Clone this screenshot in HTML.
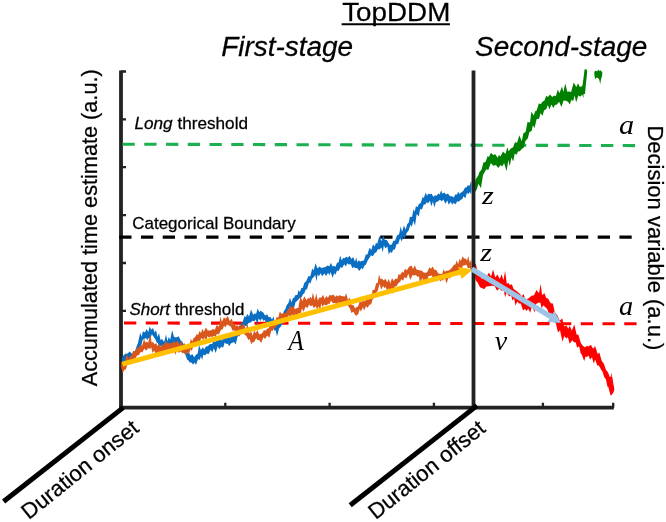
<!DOCTYPE html>
<html><head><meta charset="utf-8">
<style>
html,body{margin:0;padding:0;background:#fff;}
svg{display:block}
text{font-family:"Liberation Sans",sans-serif;fill:#000}
.ser{font-family:"Liberation Serif",serif;font-style:italic}
</style></head><body>
<svg id="s" width="666" height="522" viewBox="0 0 666 522">
<rect width="666" height="522" fill="#fff"/>
<!-- axes -->
<g stroke="#222" stroke-width="3.8" fill="none">
<line x1="121" y1="70.6" x2="121" y2="409.6"/>
<line x1="119.1" y1="407.7" x2="613.8" y2="407.7"/>
</g>
<g stroke="#222" stroke-width="2.3" fill="none">
<path d="M121 71.5h5M121 119.3h5M121 167.2h5M121 215.1h5M121 263h5M121 310.9h5M121 358.8h5"/>
<path d="M225.3 407.7v-5M329.6 407.7v-5M433.9 407.7v-5M542.9 407.7v-5M613.2 407.7v-5"/>
</g>
<!-- dashed thresholds -->
<line x1="122.5" y1="144.2" x2="635.3" y2="145.6" stroke="#1cb050" stroke-width="3.1" stroke-dasharray="12.3 9.45"/>
<line x1="119.2" y1="237.1" x2="631.7" y2="237.1" stroke="#000" stroke-width="3.2" stroke-dasharray="12.3 9.45"/>
<line x1="124" y1="323" x2="636.6" y2="323.8" stroke="#ff0000" stroke-width="3.1" stroke-dasharray="12.3 9.45"/>
<!-- noisy traces -->
<g stroke="none">
<path fill="#0a6fc2" d="M121.9,358.6 123.6,355.2 125.2,353.8 126.7,353.7 127.9,353.3 129.8,351.6 131.9,353.7 133.7,351.7 135.1,350.7 136.7,346.1 138.0,343.1 140.2,332.5 141.5,336.8 143.0,331.2 144.8,332.6 146.7,329.0 148.3,332.3 149.6,326.6 151.1,329.7 153.1,328.1 154.5,332.5 156.1,330.2 157.5,336.9 159.0,333.0 160.5,339.9 162.1,339.0 164.1,341.9 166.1,334.6 167.4,341.2 168.8,336.9 170.2,339.7 172.1,330.2 174.0,336.7 175.9,337.5 177.2,337.1 178.6,336.2 180.8,340.4 182.5,342.1 184.5,347.9 185.8,346.4 187.6,352.9 189.0,352.9 190.6,355.4 192.2,354.1 194.3,357.3 195.7,355.0 197.7,353.5 199.1,345.0 200.9,350.1 202.9,347.2 204.3,349.5 205.8,346.8 208.0,345.9 210.0,344.0 212.1,344.0 213.8,340.6 215.4,342.0 216.6,339.9 218.7,339.6 219.9,338.9 222.0,340.6 224.1,335.2 226.3,336.9 228.2,336.6 230.1,337.8 231.6,334.9 233.6,335.5 235.3,330.6 237.0,331.4 238.3,326.2 239.5,326.9 241.3,323.0 242.6,322.6 244.5,316.1 246.0,317.2 247.3,314.1 249.0,316.5 251.0,309.4 253.2,314.8 254.5,313.5 256.1,313.7 257.7,308.4 259.3,312.2 260.7,310.6 262.1,312.0 263.3,312.6 265.1,315.6 267.3,314.3 268.5,317.0 270.4,317.0 272.1,319.4 273.5,316.3 275.0,323.4 277.2,323.2 278.4,324.2 280.2,321.6 281.8,317.7 284.0,310.8 285.3,309.2 286.4,305.7 288.5,302.7 290.0,297.8 291.5,302.4 292.8,298.2 294.1,297.7 295.5,295.0 297.3,295.0 298.6,290.1 299.9,291.9 301.4,288.0 302.9,287.7 304.1,283.2 306.3,280.9 308.3,276.3 310.3,276.2 312.2,268.4 313.7,270.4 315.5,263.2 317.5,268.6 319.4,266.4 321.5,268.1 323.5,267.5 325.4,267.1 327.5,265.6 329.4,266.2 330.9,262.7 332.6,266.8 333.8,265.4 335.3,267.1 337.1,262.7 338.5,262.4 340.2,255.6 341.7,260.6 343.0,258.1 344.5,258.3 346.3,256.8 347.9,257.7 349.5,255.8 351.4,259.0 353.2,256.9 355.0,261.8 356.2,257.5 357.3,262.3 358.8,260.2 360.1,261.5 361.9,261.1 363.9,260.4 365.8,254.5 367.4,254.5 369.5,247.8 371.3,249.9 373.0,244.2 374.8,246.6 376.1,242.6 377.2,243.9 379.3,236.1 381.5,241.2 383.1,234.9 384.9,240.0 386.8,240.1 388.1,242.2 389.9,244.9 391.9,244.6 393.3,240.8 395.0,240.7 397.0,235.4 399.1,234.3 400.7,226.3 402.0,232.0 403.9,225.6 405.6,229.5 407.3,224.1 408.8,222.5 409.9,216.7 412.0,216.9 413.6,208.9 414.7,211.8 415.9,206.2 417.7,206.9 418.8,204.0 420.8,203.1 422.7,196.5 423.8,198.3 425.6,192.6 427.0,195.8 428.4,193.7 430.5,194.3 431.7,193.8 433.2,196.7 435.4,195.2 436.6,195.8 438.3,193.6 439.7,194.5 441.1,190.2 442.5,193.7 444.4,192.4 446.0,194.4 447.9,193.5 450.0,196.3 452.1,196.2 453.8,197.4 455.2,194.5 457.0,194.6 458.2,191.7 459.6,194.0 461.1,192.4 463.2,191.0 464.9,187.7 466.5,187.2 467.9,185.2 469.6,185.8 471.2,180.7 471.5,184.0 471.5,189.5 471.0,194.5 469.7,191.7 468.5,194.3 467.0,192.8 465.3,198.3 463.5,196.3 462.3,198.9 460.5,200.0 458.7,201.8 457.2,201.3 455.4,204.6 453.8,202.8 452.1,204.7 450.9,201.8 448.7,204.7 447.4,200.6 445.4,203.8 443.4,199.4 441.8,201.2 439.8,199.7 437.9,201.6 435.8,202.3 434.3,207.5 432.9,201.6 431.3,206.5 429.9,200.7 427.9,203.4 426.8,202.1 425.4,204.4 423.8,204.6 421.9,209.6 420.1,209.0 418.8,216.6 416.7,214.0 415.0,225.8 413.4,220.7 411.8,226.9 410.6,224.6 408.7,230.2 406.7,232.9 404.7,239.0 403.3,236.7 401.7,241.6 400.1,238.2 398.1,244.2 396.6,243.9 394.9,249.6 393.1,249.8 391.9,252.9 390.1,251.7 388.8,254.7 387.4,246.4 385.3,248.6 383.9,245.3 382.8,252.6 381.5,247.4 379.4,249.5 377.8,249.2 376.2,252.6 375.0,252.8 372.8,256.3 370.9,255.3 369.7,257.5 367.8,260.2 366.0,264.4 364.3,265.7 362.9,269.2 361.4,268.1 359.3,271.1 357.1,268.0 355.4,268.2 354.1,267.0 352.3,268.2 350.8,264.2 348.7,264.4 347.3,263.2 345.9,266.4 344.3,264.2 342.3,267.8 340.2,267.4 338.8,270.9 337.1,270.5 335.4,274.8 334.2,273.2 332.6,277.8 330.6,272.1 329.4,275.3 328.1,272.8 326.0,276.1 324.4,273.5 322.2,276.2 320.6,273.2 318.9,276.2 317.6,274.3 316.5,281.5 315.3,275.1 313.5,277.3 311.9,279.1 310.4,283.7 309.1,282.3 307.1,288.9 305.4,290.1 304.3,293.5 303.1,294.1 301.6,297.3 299.6,297.9 297.6,300.4 295.5,302.2 293.5,310.0 292.2,307.0 290.6,309.2 289.1,308.3 287.0,314.4 285.6,314.4 283.7,324.3 282.5,322.5 281.1,326.3 279.1,328.6 277.0,336.5 275.6,330.1 274.5,331.0 273.4,327.2 271.2,325.6 270.0,323.1 268.5,324.4 267.3,322.1 266.0,322.6 264.7,319.9 263.2,320.7 261.9,317.9 260.7,321.1 258.7,318.4 257.1,324.7 255.9,319.4 254.2,321.2 252.6,320.8 250.5,322.6 248.3,323.2 246.2,326.6 244.6,325.3 243.1,329.9 241.6,329.8 239.6,334.3 237.5,337.0 235.7,344.6 233.9,341.9 231.9,343.1 230.7,343.6 229.3,346.3 227.7,343.7 226.4,343.9 224.7,342.4 223.1,347.8 221.2,346.8 219.3,349.2 217.7,346.2 215.7,352.9 213.8,348.3 212.3,352.4 210.6,349.7 208.6,354.3 206.6,353.4 205.1,355.5 203.4,354.6 202.2,360.1 201.0,356.2 199.7,359.9 198.1,358.9 196.0,364.9 194.7,362.5 193.1,364.4 191.0,362.3 189.8,362.7 188.5,360.4 187.2,359.8 185.3,354.4 183.7,352.8 181.6,347.3 179.9,346.2 177.9,342.5 176.5,346.0 174.7,342.6 172.5,345.1 170.6,345.0 169.3,348.9 168.0,346.0 166.7,348.4 165.2,348.1 163.3,346.7 161.3,345.3 160.0,346.9 157.9,343.3 156.8,342.4 155.4,339.5 153.9,337.2 151.9,334.3 150.1,339.1 148.6,338.1 147.2,340.2 146.0,337.8 144.5,338.9 142.7,339.7 140.6,348.5 139.5,346.9 137.8,353.0 136.2,353.1 134.2,358.3 132.8,358.3 130.6,360.9 128.7,358.9 126.8,362.9 125.0,360.8 123.1,365.1 121.9,364.4Z"/>
<path fill="#d9571c" d="M121.1,361.8 122.8,362.3 124.9,362.7 126.7,354.1 128.5,358.8 129.7,356.8 131.4,355.1 133.3,350.7 135.1,351.5 137.2,347.2 138.7,348.0 140.0,345.0 142.1,345.6 144.1,339.1 145.3,342.4 146.9,341.6 148.1,342.8 150.3,334.3 151.6,342.4 153.0,342.0 154.9,344.6 156.2,343.0 157.5,346.1 158.8,343.8 160.2,347.1 162.3,344.2 164.1,344.9 165.4,340.7 166.9,343.5 168.0,342.3 169.6,343.9 170.9,343.0 172.6,343.0 174.0,341.1 175.9,343.1 177.5,340.2 179.5,344.6 181.0,340.2 182.2,345.9 184.2,342.8 186.2,347.2 187.6,343.4 189.4,345.1 190.9,338.6 192.1,341.4 193.7,338.1 195.2,337.1 196.5,334.6 198.3,334.6 199.5,330.9 201.0,333.1 202.3,328.8 203.9,331.7 205.8,327.6 207.7,330.5 209.6,330.6 211.3,330.2 212.8,328.9 214.9,329.8 216.6,325.1 218.8,326.7 220.4,316.4 221.9,322.1 223.9,317.5 225.6,318.8 227.8,316.1 229.8,321.1 231.8,318.4 233.2,323.1 234.7,323.4 235.9,326.2 237.3,325.1 238.5,326.9 240.4,323.7 241.6,326.3 243.8,323.2 245.9,329.5 247.7,323.8 249.2,333.4 251.4,331.7 252.6,336.1 254.1,330.6 255.8,332.9 257.5,330.0 259.1,334.3 260.9,334.0 262.3,332.9 263.9,330.3 265.6,330.4 267.3,328.7 268.9,328.0 270.2,322.8 272.2,324.6 273.5,321.7 275.0,321.7 276.7,316.7 278.2,317.9 279.8,311.4 281.7,314.1 283.7,312.8 285.5,313.4 287.1,310.5 288.4,309.8 290.2,304.7 291.6,308.2 293.4,305.7 294.9,309.3 296.4,308.2 298.3,308.1 300.4,295.9 302.4,301.3 304.3,296.2 306.4,300.2 308.0,298.1 309.1,298.7 310.5,296.8 311.7,298.7 312.8,292.7 314.8,300.3 316.2,293.4 317.8,300.6 319.3,297.5 321.3,297.8 323.2,294.7 324.6,299.1 326.4,295.9 327.9,297.8 329.6,295.1 331.6,295.4 333.4,294.6 335.2,297.1 336.6,295.2 338.2,296.6 339.7,294.9 341.1,296.0 343.0,296.3 345.0,296.6 346.1,293.0 348.0,299.9 349.9,297.6 351.5,304.9 353.6,305.3 355.2,308.4 356.7,306.9 358.0,306.4 360.0,300.7 361.1,302.6 363.1,300.7 364.8,301.5 366.6,298.7 368.1,299.8 370.0,296.1 371.5,295.7 372.7,289.8 374.4,290.0 376.2,283.2 377.8,282.7 378.9,274.6 380.5,278.9 381.8,278.8 384.0,280.5 385.2,278.5 387.3,282.2 388.8,278.7 390.3,283.5 392.0,278.1 393.8,281.1 395.5,278.5 397.3,279.1 398.6,273.9 400.1,275.1 402.2,271.4 403.3,272.9 404.9,268.7 406.9,270.3 408.4,267.7 409.7,266.3 411.8,265.7 412.9,268.9 414.9,265.5 416.5,269.5 418.5,269.9 420.1,270.6 421.9,270.8 424.0,272.8 425.6,272.7 427.2,272.2 429.4,267.2 431.1,268.8 432.6,266.4 434.4,269.7 436.3,270.0 438.3,273.5 440.0,273.8 442.1,273.9 443.7,269.3 444.8,271.8 446.8,270.7 448.6,270.6 449.8,269.7 451.9,267.7 454.1,264.5 455.3,264.8 456.8,260.3 458.0,264.2 459.7,258.8 460.9,261.1 462.6,256.3 464.2,258.7 465.4,258.3 467.1,260.4 468.3,255.9 469.7,262.7 471.2,259.8 471.5,263.7 471.5,269.4 471.5,270.6 469.8,268.0 467.9,268.0 466.3,264.4 464.6,265.5 462.9,265.4 461.4,270.6 460.2,267.5 458.9,271.8 457.3,270.1 456.1,273.0 454.8,271.0 453.3,272.8 451.4,274.3 449.9,278.9 448.7,276.7 446.6,283.4 444.6,277.6 443.0,280.7 441.9,279.6 440.8,281.4 438.6,279.2 437.1,281.8 435.1,276.2 433.1,278.5 431.8,275.4 429.6,275.9 428.4,276.3 427.1,281.1 425.0,279.3 423.8,282.8 422.2,277.8 420.1,284.7 419.0,276.2 417.6,277.0 415.9,275.1 414.1,275.4 412.6,275.0 410.4,280.1 408.3,273.7 406.4,278.4 404.7,276.9 403.0,280.7 401.3,279.2 400.0,282.2 398.8,282.4 396.7,286.0 394.7,286.7 392.9,293.7 391.2,288.4 389.6,293.9 388.4,288.3 386.9,290.6 385.7,287.1 384.4,288.0 383.1,285.9 381.0,289.8 379.7,283.6 377.7,290.8 376.1,292.8 374.3,297.7 372.6,299.2 371.2,304.2 369.4,304.8 367.7,307.8 365.8,306.3 364.3,310.6 362.9,307.2 360.9,311.8 359.8,309.1 358.3,314.0 356.2,315.8 355.0,314.7 353.4,311.8 351.5,313.0 350.1,308.7 348.3,306.3 347.0,303.6 345.4,302.8 344.2,302.7 343.0,303.9 341.5,302.6 340.3,306.5 339.0,302.0 336.9,304.3 334.9,303.1 332.8,303.2 331.1,300.5 329.5,304.1 328.3,303.8 326.3,305.5 324.3,304.6 322.6,307.0 321.4,303.6 320.1,309.9 318.3,306.2 317.1,309.8 315.6,306.1 313.9,308.2 312.2,304.9 311.0,306.5 309.2,304.6 307.5,307.9 305.4,306.8 303.7,311.7 302.0,308.4 300.8,312.9 299.0,313.1 297.0,315.9 294.9,314.2 293.6,317.6 291.9,314.3 290.4,317.7 289.0,314.9 287.8,317.3 285.7,319.1 284.1,321.3 282.4,318.7 281.1,322.8 279.7,321.8 277.8,324.7 276.5,326.0 275.3,328.0 273.9,328.5 272.5,330.9 271.3,330.6 269.4,337.8 267.2,335.5 265.1,339.0 263.3,337.3 261.3,343.1 259.4,340.2 257.3,339.9 256.2,337.9 254.1,342.2 252.7,341.9 251.4,344.6 249.6,339.0 248.3,340.0 246.3,335.8 244.8,334.9 243.6,332.6 242.2,334.3 240.9,333.4 239.6,336.7 237.4,332.3 236.1,333.3 234.2,329.9 232.7,331.1 230.9,326.8 229.0,325.6 226.9,324.4 225.4,327.4 224.1,325.8 222.8,328.9 220.9,330.1 218.9,334.6 217.1,333.7 215.3,337.3 214.1,335.8 212.2,337.0 210.4,336.5 209.1,337.7 207.4,335.9 206.0,343.0 204.9,337.2 203.5,339.8 201.3,338.1 199.4,342.9 197.8,340.6 195.9,347.1 193.7,344.8 191.8,351.0 190.4,348.9 189.0,354.5 187.9,352.1 186.0,355.0 184.2,352.3 182.5,353.6 180.8,351.2 178.8,352.9 177.3,349.1 175.4,355.0 173.5,348.6 171.8,350.1 170.5,349.0 169.0,351.4 166.8,349.4 165.4,353.8 164.1,351.0 162.8,355.6 161.6,351.4 159.6,353.2 157.7,352.4 156.3,355.8 154.1,350.6 152.4,352.9 151.3,347.5 150.1,348.8 148.1,348.2 146.1,350.7 144.4,348.5 142.4,352.4 140.9,351.8 139.0,354.9 137.1,355.5 135.3,358.4 134.0,358.4 132.0,363.2 130.4,361.7 129.1,364.5 127.4,364.7 125.8,369.6 124.1,370.0 122.8,373.4 121.1,366.7Z"/>
<path fill="#008000" d="M474.2,185.2 475.8,179.0 478.2,175.7 479.5,172.1 481.6,169.6 483.3,162.7 485.7,161.8 487.6,155.9 489.0,157.1 490.9,152.7 493.3,154.9 495.4,154.3 497.6,157.7 499.0,154.9 500.5,156.5 503.0,151.6 505.5,153.9 507.3,147.3 508.6,151.3 510.9,148.5 513.1,147.3 515.1,142.2 517.1,142.7 519.4,135.3 521.7,141.3 523.4,133.2 525.6,132.1 527.5,122.1 530.0,122.5 531.4,111.8 533.8,115.4 535.1,111.2 536.7,110.6 538.8,103.6 540.9,104.0 542.4,101.7 544.5,100.5 546.2,95.8 547.9,97.1 549.9,94.4 552.3,97.0 554.1,95.5 555.8,96.3 557.8,89.5 559.4,93.3 562.0,86.4 563.3,92.1 565.3,83.5 567.3,91.7 568.8,91.6 571.1,92.0 573.7,82.6 576.3,86.9 578.0,83.3 579.7,86.7 581.7,86.4 583.5,85.1 583.5,98.3 582.1,94.4 580.4,96.8 578.4,95.4 576.1,102.6 574.7,95.6 573.1,101.2 571.4,99.7 569.8,104.6 568.2,102.0 566.1,100.7 563.6,100.4 561.4,107.1 559.1,101.7 557.0,104.6 555.0,104.9 553.3,107.9 551.4,104.6 549.4,109.4 547.9,104.9 546.1,109.2 544.0,110.4 542.5,116.1 540.6,113.0 539.1,118.8 536.7,118.9 534.5,128.1 532.9,125.2 531.6,131.1 529.3,132.2 527.9,138.3 525.4,141.0 524.0,147.2 521.5,149.2 519.9,151.2 518.0,151.5 516.5,154.8 514.7,153.5 513.2,161.5 511.4,157.4 509.8,166.2 508.3,160.1 506.6,171.2 504.1,162.9 502.2,166.4 500.6,164.9 498.2,168.1 495.9,165.0 493.4,165.7 490.8,163.0 488.3,170.1 486.3,169.3 484.9,171.7 483.1,174.8 480.9,188.3 478.5,183.8 476.7,189.4 474.2,193.6Z"/>
<polygon fill="#008000" points="581.5,94 585,94 585.8,85 587.2,72 586.8,69.6 584.6,69.3 583.5,78 582.4,86"/>
<polygon fill="#008000" points="594.3,72 595.5,70.4 597,71.6 598.3,69.4 599.2,71 600.5,70.2 602.4,72.5 602.1,76 601.1,79 600.2,84.2 599.2,79.5 598,78 596.5,77.6 595.2,79.2 594.5,76"/>
<path fill="#ff0000" d="M473.6,261.4 476.0,264.6 478.0,274.6 479.5,272.4 481.8,279.0 484.3,276.3 486.5,277.0 488.9,272.4 491.1,276.4 493.0,269.4 495.3,277.6 497.4,274.5 499.8,279.0 501.6,274.3 503.5,280.3 505.1,270.7 506.8,283.8 508.5,282.9 509.8,285.0 511.8,284.2 513.6,288.9 515.8,290.6 518.2,292.6 520.0,294.0 521.7,296.2 523.5,294.0 525.2,299.2 526.5,299.3 529.0,298.1 531.6,295.7 534.0,295.2 536.5,289.9 539.0,293.3 540.7,284.1 542.1,295.3 544.4,293.0 546.2,298.1 548.0,298.5 550.6,303.2 552.9,303.4 554.8,312.2 557.3,315.3 559.7,320.5 562.2,318.6 564.2,326.6 566.5,325.4 568.2,328.8 569.8,325.8 571.8,330.6 574.3,324.5 576.7,334.8 578.3,334.6 580.8,343.0 582.6,345.6 584.8,347.3 587.0,346.1 588.7,346.4 590.8,344.7 593.2,348.7 595.1,346.1 597.7,354.1 599.3,352.6 601.7,360.7 604.0,364.0 605.8,369.5 608.1,372.6 610.1,377.9 611.8,372.5 611.8,391.7 610.1,387.5 607.5,386.7 605.9,379.2 604.3,377.3 602.6,371.8 601.0,369.5 598.9,365.4 597.3,365.5 595.1,359.6 593.8,363.7 592.0,357.3 590.1,359.5 588.4,355.4 587.0,357.0 585.5,356.6 584.2,361.2 582.1,355.3 580.6,353.1 579.1,346.2 577.1,347.8 575.8,342.6 574.0,342.3 572.3,340.3 569.7,343.8 567.9,337.2 566.2,338.6 564.3,336.0 562.5,341.8 560.0,330.3 558.0,332.6 555.9,323.6 553.4,320.6 551.1,312.4 549.6,314.7 547.0,308.7 544.8,306.7 543.3,305.2 541.7,308.2 540.2,302.6 538.2,302.8 536.1,304.0 534.5,312.5 532.0,305.4 530.3,312.8 528.3,308.8 526.3,311.0 525.0,308.8 523.1,310.4 520.7,303.6 518.9,303.6 517.3,301.6 515.5,305.5 514.1,298.2 512.7,300.7 511.0,295.3 509.1,296.4 506.8,292.6 505.1,297.2 503.8,290.2 501.2,290.8 499.2,288.5 497.1,290.8 494.7,286.3 492.6,285.8 490.0,286.0 488.6,286.3 486.3,286.4 484.1,289.2 482.4,288.2 480.0,287.3 477.7,282.8 475.6,280.1 473.6,270.3Z"/>
<polygon fill="#ff0000" points="606,377 612.3,377 613.4,384 614.4,389.5 613.2,393 610.8,395.8 609.6,392 608.4,387"/>
</g>
<!-- arrows -->
<line x1="122.5" y1="364.2" x2="462" y2="271.6" stroke="#ffc000" stroke-width="5"/>
<polygon points="472.6,269.4 458.2,266.9 461.6,279" fill="#ffc000"/>
<line x1="473.5" y1="70.5" x2="473.5" y2="407.7" stroke="#222" stroke-width="3.8"/>
<line x1="471.8" y1="269.1" x2="551" y2="316.8" stroke="#9dc3e6" stroke-width="5.3"/>
<polygon points="561.1,322.9 554.2,311 547.4,322" fill="#9dc3e6"/>
<!-- diagonal -->
<g stroke="#000" stroke-width="5" stroke-linecap="butt">
<line x1="123.2" y1="407.6" x2="3.6" y2="501.5"/>
<line x1="477" y1="405.6" x2="350.2" y2="505.2"/>
</g>
<g id="labels" stroke="#000" stroke-width="0.25">
<text id="t1" transform="translate(342.2,20.6) scale(1.099,1)" font-size="25.3">TopDDM</text>
<line x1="341.6" y1="24.2" x2="449.9" y2="24.2" stroke="#000" stroke-width="2"/>
<text id="t2" transform="translate(221.3,55.9) scale(1.034,1)" font-size="27" font-style="italic">First-stage</text>
<text id="t3" transform="translate(475.1,55.9) scale(1.034,1)" font-size="27" font-style="italic">Second-stage</text>
<text id="t4" transform="translate(96.7,386.3) rotate(-90) scale(1,1.04)" font-size="21.7">Accumulated time estimate (a.u.)</text>
<text id="t5" transform="translate(134.5,129.1) scale(1.04,1)" font-size="16.5"><tspan font-style="italic">Long</tspan> threshold</text>
<text id="t6" transform="translate(132.2,229.1) scale(1.064,1)" font-size="16">Categorical Boundary</text>
<text id="t7" transform="translate(129.4,315) scale(1.048,1)" font-size="16.2"><tspan font-style="italic">Short</tspan> threshold</text>
<text id="t8" transform="translate(647.8,125.4) rotate(90) scale(1,1)" font-size="22">Decision variable (a.u.)</text>
<text id="t9" transform="translate(28.8,520.3) rotate(-38.9)" font-size="22">Duration onset</text>
<text id="t10" transform="translate(375.7,520.3) rotate(-38.9)" font-size="22">Duration offset</text>
</g>
<g id="sym">
<text id="s1" class="ser" transform="translate(619.1,134.3) scale(1.08,1)" font-size="28">a</text>
<text id="s2" class="ser" transform="translate(619.1,314.8) scale(1.05,1)" font-size="27">a</text>
<text id="s3" class="ser" transform="translate(482,204.2) scale(1.186,1)" font-size="25.5">z</text>
<text id="s4" class="ser" transform="translate(480.2,261.4) scale(1.186,1)" font-size="25.5">z</text>
<text id="s5" class="ser" transform="translate(494.8,350.2) scale(1.0,1)" font-size="28">v</text>
<text id="s6" class="ser" transform="translate(288.6,350.4) scale(0.86,1)" font-size="29">A</text>
</g>
</svg>
</body></html>
